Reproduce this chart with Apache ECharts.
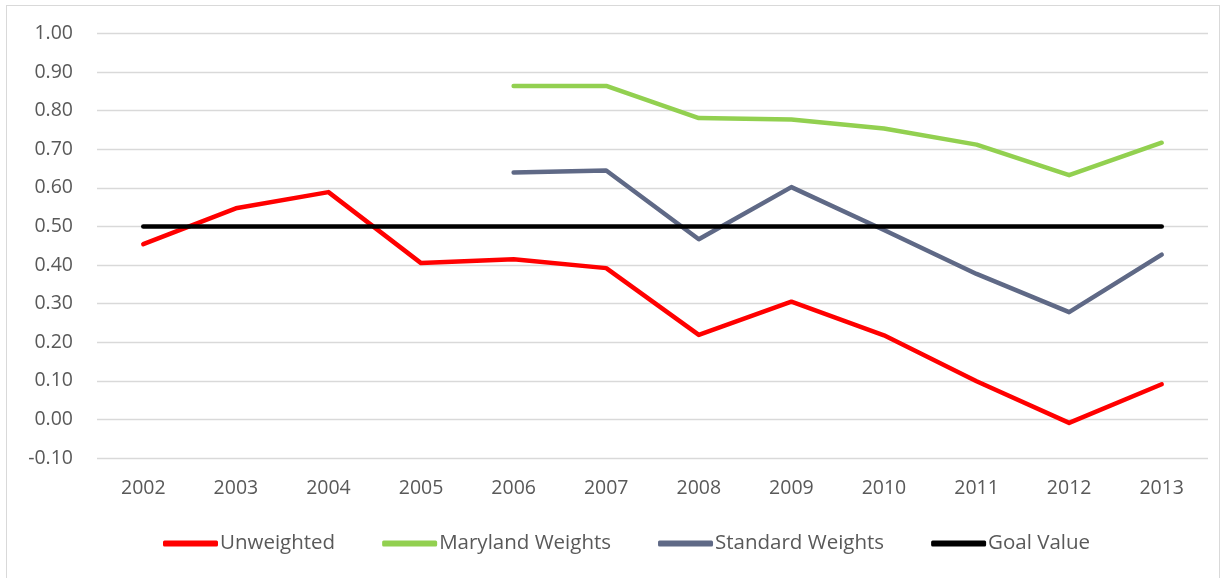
<!DOCTYPE html>
<html>
<head>
<meta charset="utf-8">
<script src="https://cdn.jsdelivr.net/npm/echarts@6/dist/echarts.min.js"></script>
<style>
  html, body { margin: 0; padding: 0; background: #fff; }
  #frame { position: absolute; left: 6px; top: 5px; width: 1214px; height: 580px; border: 1px solid #d9d9d9; box-sizing: border-box; }
  #chart { position: absolute; left: 0; top: 0; width: 1226px; height: 578px; }
</style>
</head>
<body>
<div id="frame"></div>
<div id="chart"></div>
<script>
const years = ['2002', '2003', '2004', '2005', '2006', '2007', '2008', '2009', '2010', '2011', '2012', '2013']
const unweighted = [0.454, 0.547, 0.589, 0.405, 0.415, 0.392, 0.219, 0.305, 0.218, 0.099, -0.009, 0.091]
const marylandWeights = [null, null, null, null, 0.864, 0.864, 0.781, 0.777, 0.754, 0.712, 0.633, 0.717]
const standardWeights = [null, null, null, null, 0.640, 0.645, 0.467, 0.602, 0.491, 0.377, 0.278, 0.427]
const goalValue = [0.5, 0.5, 0.5, 0.5, 0.5, 0.5, 0.5, 0.5, 0.5, 0.5, 0.5, 0.5]

const font = '"Open Sans", "Liberation Sans", sans-serif'
const textColor = '#595959'

const chart = echarts.init(document.getElementById('chart'))

const makeLine = (name, data, color, width) => ({
  name,
  type: 'line',
  data,
  symbol: 'none',
  smooth: false,
  connectNulls: false,
  lineStyle: { color, width, cap: 'round', join: 'round' },
  itemStyle: { color },
  emphasis: { disabled: true }
})

chart.setOption({
  animation: false,
  grid: { left: 97, right: 18, top: 33.5, bottom: 120 },
  legend: {
    bottom: 19,
    left: 158,
    icon: 'roundRect',
    itemWidth: 55,
    itemHeight: 6,
    itemGap: 47,
    textStyle: { fontFamily: font, fontSize: 20.5, color: textColor, padding: [0, 0, 0, -3] },
    data: ['Unweighted', 'Maryland Weights', 'Standard Weights', 'Goal Value']
  },
  xAxis: {
    type: 'category',
    data: years,
    boundaryGap: true,
    axisLine: { show: false },
    axisTick: { show: false },
    axisLabel: { fontFamily: font, fontSize: 19.5, color: textColor, margin: 20 }
  },
  yAxis: {
    type: 'value',
    min: -0.1,
    max: 1.0,
    interval: 0.1,
    axisLine: { show: false },
    axisTick: { show: false },
    axisLabel: {
      fontFamily: font, fontSize: 19.5, color: textColor, margin: 24,
      formatter: v => v.toFixed(2)
    },
    splitLine: { lineStyle: { color: '#d9d9d9', width: 1.3 } }
  },
  series: [
    makeLine('Unweighted', unweighted, '#ff0000', 4.5),
    makeLine('Maryland Weights', marylandWeights, '#92d050', 4.5),
    makeLine('Standard Weights', standardWeights, '#5f6986', 4.5),
    makeLine('Goal Value', goalValue, '#000000', 4.5)
  ]
})
</script>
</body>
</html>
